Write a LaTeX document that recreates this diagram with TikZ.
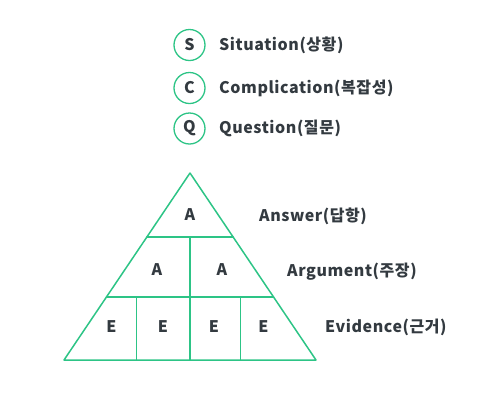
\documentclass[tikz,border=0pt]{standalone}
\usepackage{fontspec}
\setmainfont{Noto Sans CJK KR}[LetterSpace=3.5]
\usetikzlibrary{calc,positioning}
\definecolor{scqgreen}{HTML}{2DC486}
\definecolor{scqtext}{HTML}{333A40}
\tikzset{
	letter/.style={circle, draw=scqgreen, line width=1.3pt, minimum size=31pt, inner sep=0pt, text=scqtext, font=\fontsize{16}{18}\selectfont\bfseries},
	caption/.style={anchor=west, text=scqtext, font=\fontsize{16}{18}\selectfont\bfseries, inner sep=0pt},
	cell/.style={text=scqtext, font=\fontsize{16}{18}\selectfont\bfseries, inner sep=0pt},
	edge/.style={draw=scqgreen, line width=1.5pt, line join=round, line cap=round}
}
\begin{document}
\begin{tikzpicture}[x=1pt, y=-1pt]
	\useasboundingbox (0,0) rectangle (477,400);
	
	% The three SCQ items
	\node[letter] (s) at (189.5,45) {S};
	\node[letter] (c) at (189.5,88) {C};
	\node[letter] (q) at (189.5,128.5) {Q};
	\node[caption] (stext) at (219,45) {Situation(상황)};
	\node[caption] (ctext) at (219,88) {Complication(복잡성)};
	\node[caption] (qtext) at (219,128.5) {Question(질문)};
	
	% Pyramid corners
	\coordinate (top) at (190,173);
	\coordinate (bl) at (64,360);
	\coordinate (br) at (316,360);
	\draw[edge] (top) -- (bl) -- (br) -- cycle;
	
	% Horizontal splits
	\draw[edge] ($(top)!0.342!(bl)$) -- ($(top)!0.342!(br)$);
	\draw[edge] ($(top)!0.663!(bl)$) -- ($(top)!0.663!(br)$);
	
	% Vertical splits
	\draw[edge] (190,236.8) -- (190,360);
	\foreach \x in {136.5,240.5} {
		\draw[edge] (\x,297) -- (\x,360);
	}
	
	% Cell letters
	\node[cell] (a1) at (190,215) {A};
	\node[cell] (a2) at (157,270) {A};
	\node[cell] (a3) at (222,270) {A};
	\foreach \x [count=\i] in {111.5,163,214,263.5} {
		\node[cell] (e\i) at (\x,327) {E};
	}
	
	% Level labels
	\node[caption] (answer) at (259,216) {Answer(답항)};
	\node[caption] (argument) at (287,271.5) {Argument(주장)};
	\node[caption] (evidence) at (325,327) {Evidence(근거)};
\end{tikzpicture}
\end{document}
